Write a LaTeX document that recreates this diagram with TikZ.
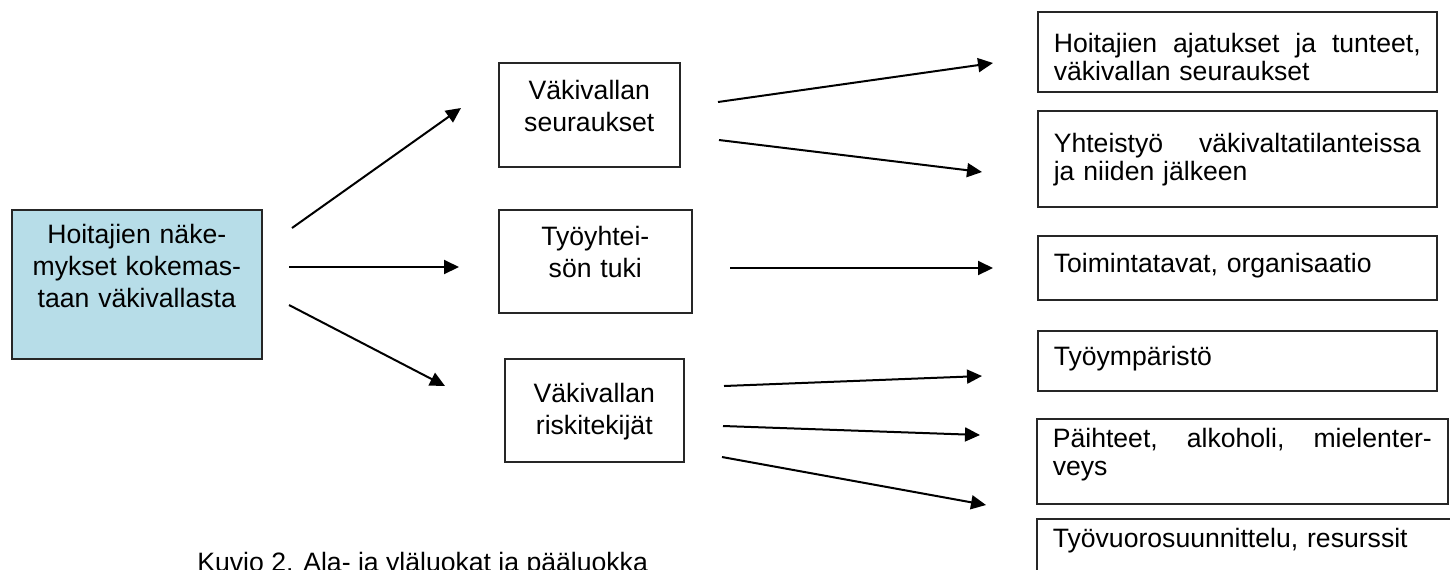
\documentclass[tikz,border=0pt]{standalone}
\usepackage{fontspec}
\setmainfont{Liberation Sans}
\usetikzlibrary{arrows.meta}
\definecolor{boxblue}{RGB}{183,221,232}

\begin{document}
\begin{tikzpicture}[x=0.5pt,y=-0.5pt,font=\fontsize{13.3}{16}\selectfont]
  \useasboundingbox (0,0) rectangle (1450,569);
  \tikzstyle{BoxStyle}=[draw=black!85,line width=0.8pt,inner sep=0pt,anchor=base west]
  \tikzstyle{MidStyle}=[BoxStyle,align=center]
  \tikzstyle{RightStyle}=[BoxStyle,align=left,inner xsep=8pt,font=\fontsize{13.3}{14.2}\selectfont]
  \tikzstyle{EdgeStyle}=[line width=1pt,-{Triangle[length=7.5pt,width=7pt]}]
  \node[MidStyle,fill=boxblue,text width=125pt,text height=16.5pt,text depth=58pt] (nakemykset) at (11,243) {Hoitajien näke-\\mykset kokemas-\\taan väkivallasta};
  \node[MidStyle,text width=90.5pt,text height=18.2pt,text depth=33.9pt] (seuraukset) at (498,99.3) {Väkivallan\\seuraukset};
  \node[MidStyle,text width=96.5pt,text height=17.5pt,text depth=34pt] (tuki) at (498,245) {Työyhtei-\\sön tuki};
  \node[MidStyle,text width=89.5pt,text height=21.9pt,text depth=29.7pt] (riskit) at (504,402.7) {Väkivallan\\riskitekijät};
  \node[RightStyle,text width=183.5pt,text height=20pt,text depth=20pt] (ajatukset) at (1037,52) {Hoitajien\hfill ajatukset\hfill ja\hfill tunteet,\\väkivallan seuraukset};
  \node[RightStyle,text width=183.5pt,text height=20.5pt,text depth=27.5pt] (yhteistyo) at (1037,152) {Yhteistyö\hfill väkivaltatilanteissa\\ja niiden jälkeen};
  \node[RightStyle,text width=183.5pt,text height=18pt,text depth=14pt] (toiminta) at (1037,272) {Toimintatavat, organisaatio};
  \node[RightStyle,text width=183.5pt,text height=17pt,text depth=13pt] (ymparisto) at (1037,365) {Työympäristö};
  \node[RightStyle,text width=189.5pt,text height=14pt,text depth=28.5pt] (paihteet) at (1036,447) {Päihteet,\hfill alkoholi,\hfill mielenter-\\veys};
  \node[RightStyle,text width=204pt,text height=14pt,text depth=30pt] (resurssit) at (1036,547) {Työvuorosuunnittelu, resurssit};
  \node[anchor=base west,inner sep=0pt] (kuvio) at (197,571.6) {Kuvio 2. Ala- ja yläluokat ja pääluokka};
  % arrow ends
  \coordinate (nk1) at (292,228);  \coordinate (sr0) at (461,108);
  \coordinate (nk2) at (289,267);  \coordinate (tk0) at (459,267);
  \coordinate (nk3) at (289,305);  \coordinate (rk0) at (445,386);
  \coordinate (sr1) at (718,102);  \coordinate (aj0) at (993,63);
  \coordinate (sr2) at (719,140);  \coordinate (yh0) at (982,172);
  \coordinate (tk1) at (730,268);  \coordinate (to0) at (993,268);
  \coordinate (rk1) at (724,386);  \coordinate (ym0) at (982,376);
  \coordinate (rk2) at (723,426);  \coordinate (pa0) at (980,435);
  \coordinate (rk3) at (722,457);  \coordinate (re0) at (986,505);
  \draw[EdgeStyle] (nk1) -- (sr0);
  \draw[EdgeStyle] (nk2) -- (tk0);
  \draw[EdgeStyle] (nk3) -- (rk0);
  \draw[EdgeStyle] (sr1) -- (aj0);
  \draw[EdgeStyle] (sr2) -- (yh0);
  \draw[EdgeStyle] (tk1) -- (to0);
  \draw[EdgeStyle] (rk1) -- (ym0);
  \draw[EdgeStyle] (rk2) -- (pa0);
  \draw[EdgeStyle] (rk3) -- (re0);
\end{tikzpicture}
\end{document}
